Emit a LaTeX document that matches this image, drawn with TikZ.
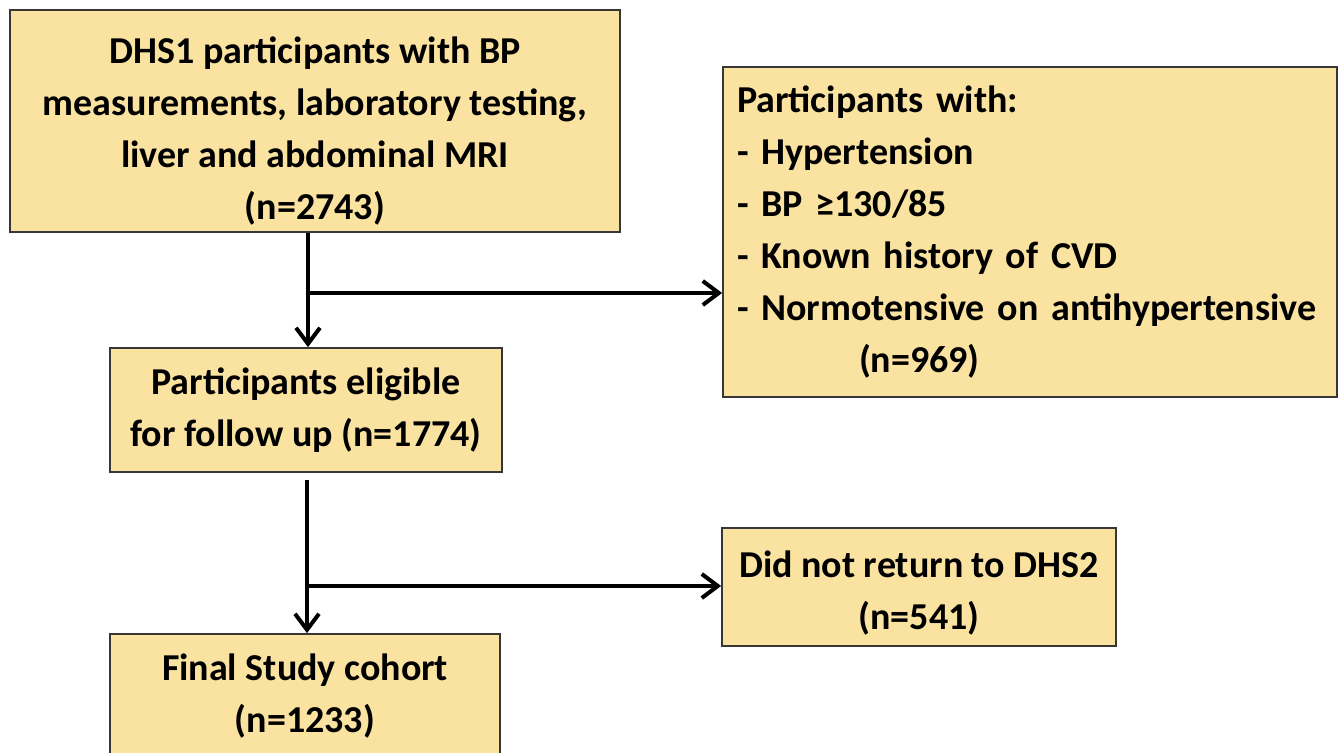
\documentclass[tikz,border=0pt]{standalone}
\usepackage{fontspec}
\setmainfont{Carlito}
\usetikzlibrary{arrows.meta}
\definecolor{boxfill}{RGB}{250,226,160}
\definecolor{boxline}{RGB}{55,55,55}
\begin{document}
\begin{tikzpicture}[x=0.5pt,y=-0.5pt,
  box/.style={draw=boxline, line width=0.9pt, fill=boxfill, inner sep=0pt, align=center,
    font=\bfseries\fontsize{19}{26}\selectfont},
  flow/.style={line width=2pt, -{Straight Barb[length=8pt,width=12pt,line width=2pt]}},
  plain/.style={line width=2pt}]
\useasboundingbox (0,0) rectangle (1344,753);
\fill[white] (0,0) rectangle (1344,753);
\node[box, minimum width=305pt, minimum height=111pt] (b1) at (315,121)
  {\rule{0pt}{23pt}DHS1 participants with BP\\measurements, laboratory testing,\\liver and abdominal MRI\\(n=2743)};
\node[box, minimum width=196pt, minimum height=62pt] (b2) at (306,410)
  {Participants eligible\\for follow up (n=1774)};
\node[box, minimum width=307pt, minimum height=165pt, text width=293pt, inner xsep=7pt, align=left] (b3) at (1030,232)
  {Participants with:\\- Hypertension\\- BP ≥130/85\\- Known history of CVD\\- Normotensive on antihypertensive\\\hspace*{61pt}(n=969)};
\node[box, minimum width=195pt, minimum height=68pt] (b4) at (305,702)
  {Final Study cohort\\(n=1233)\rule[-9pt]{0pt}{0pt}};
\node[box, minimum width=197pt, minimum height=59pt] (b5) at (919,587)
  {\rule{0pt}{19.5pt}Did not return to DHS2\\(n=541)};
\coordinate (j1) at (308,293);
\coordinate (s2) at (307,480);
\coordinate (j2) at (307,586);
\draw[flow] (b1.south -| j1) -- (b2.north -| j1);
\draw[flow] (j1) -- (b3.west |- j1);
\draw[flow] (s2) -- (b4.north -| s2);
\draw[flow] (j2) -- (b5.west |- j2);
\end{tikzpicture}
\end{document}
